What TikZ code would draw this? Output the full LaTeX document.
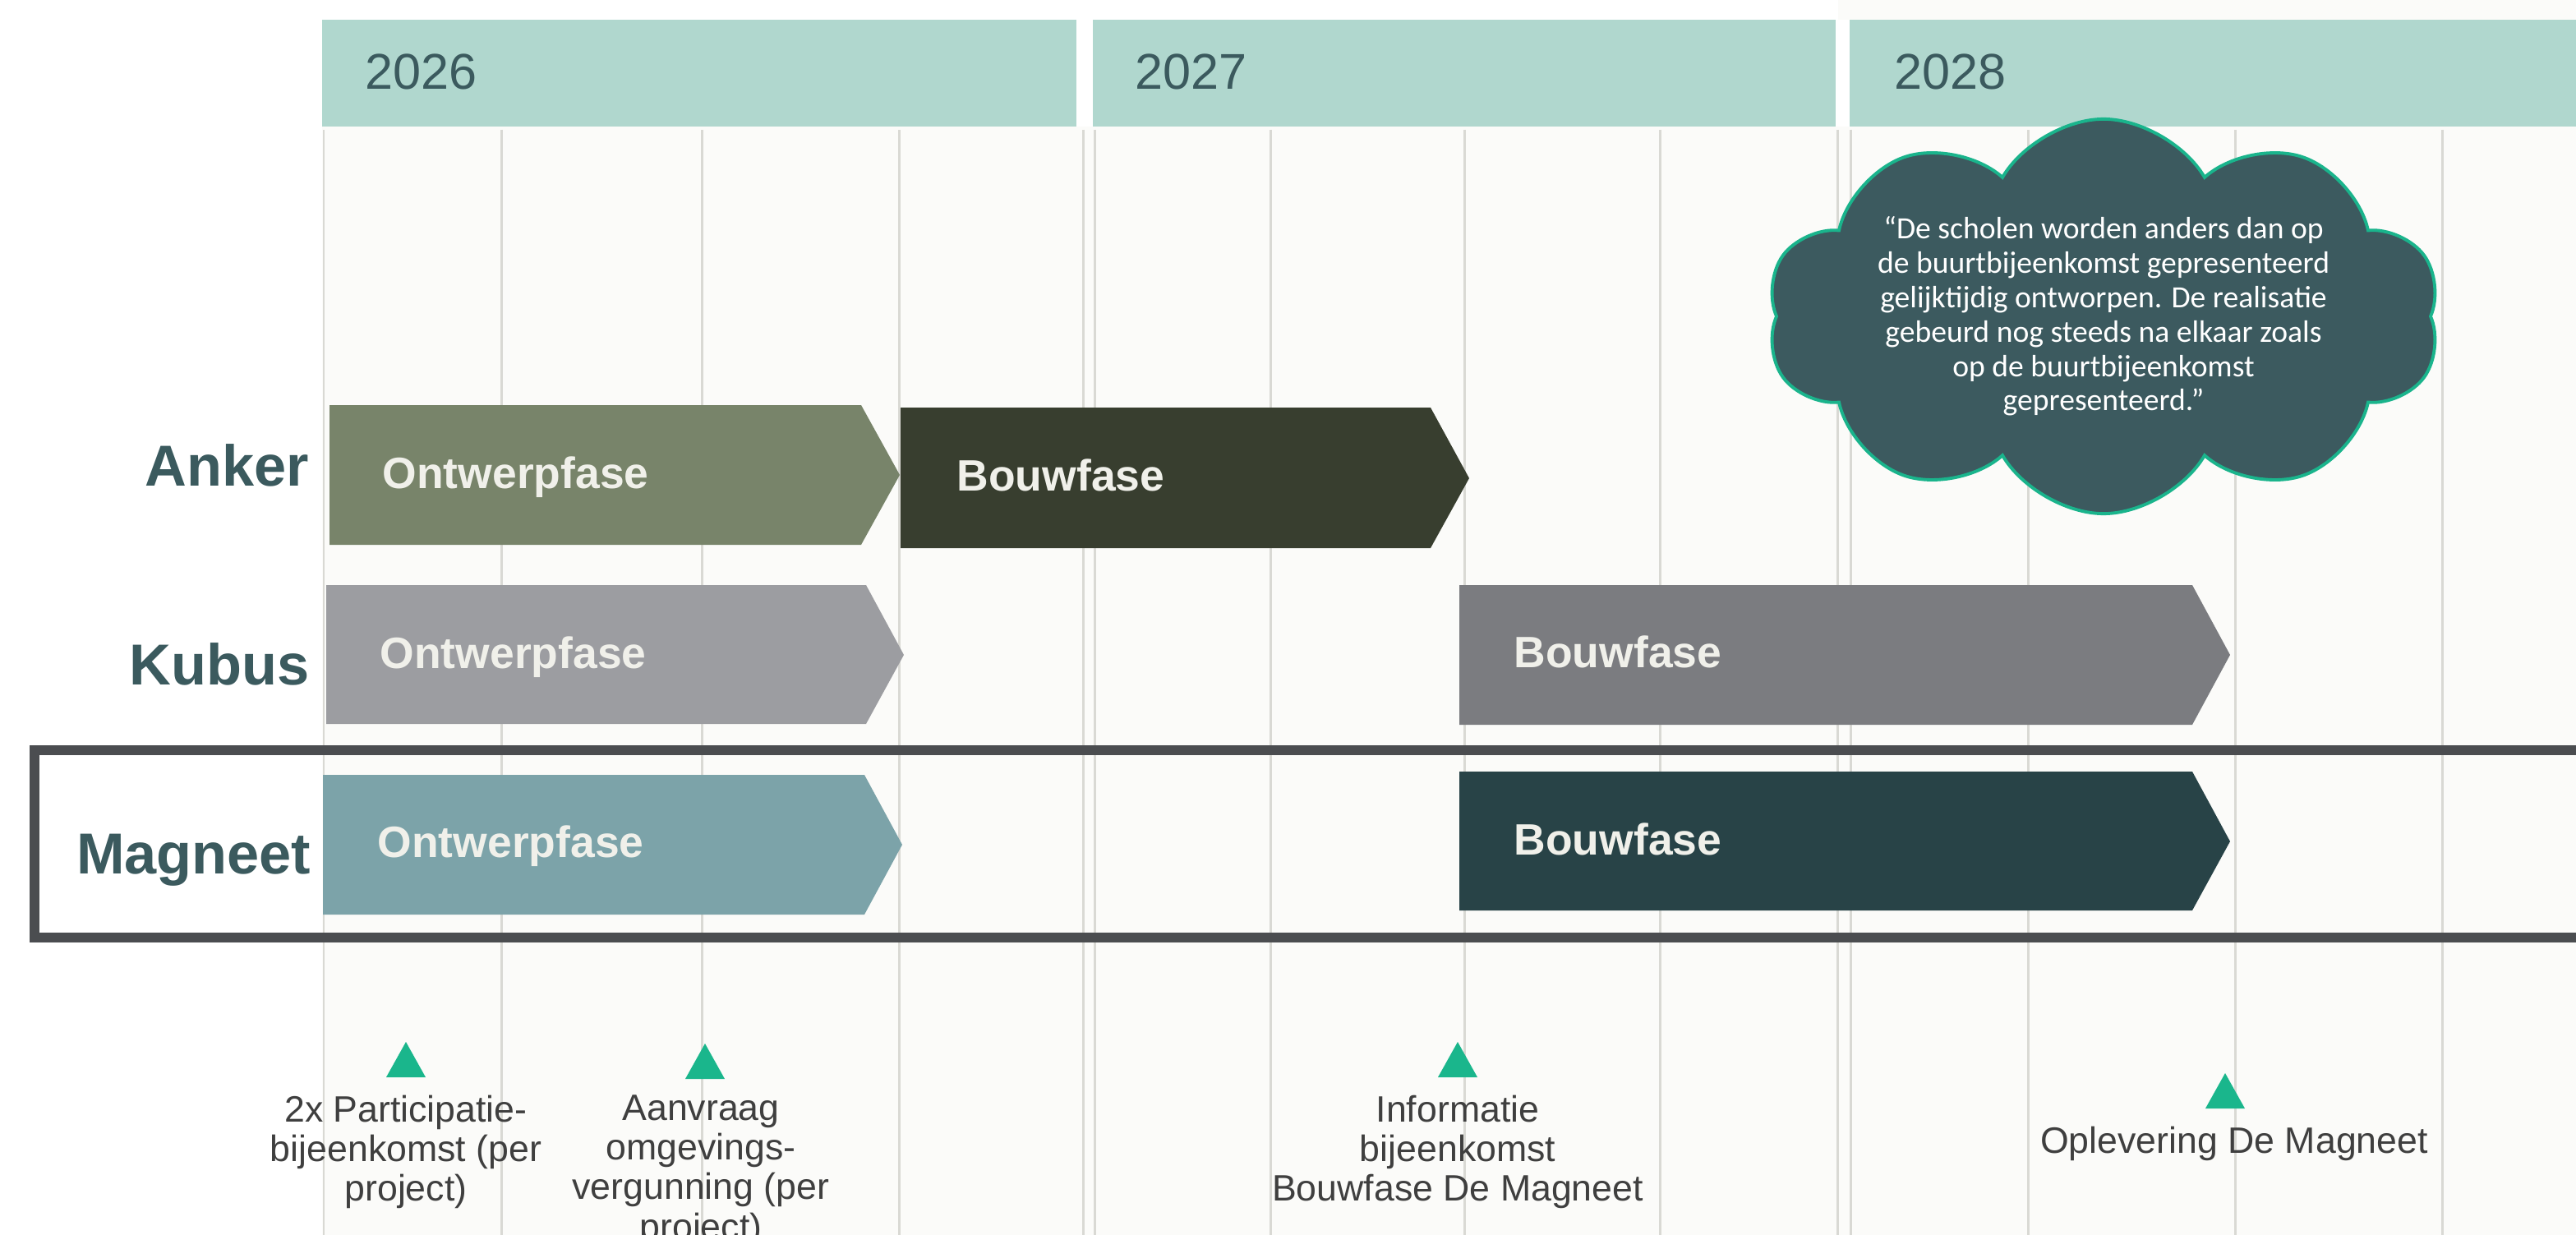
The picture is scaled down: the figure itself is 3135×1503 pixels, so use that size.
\documentclass[tikz,border=0pt]{standalone}
\usepackage{fontspec}
\setmainfont{Liberation Sans}
\newfontfamily\quotefont{Carlito}
\usepackage{xcolor}
\usepackage{tikz}
\usetikzlibrary{calc,positioning,shapes.symbols}
\definecolor{bg}{HTML}{FBFBF9}
\definecolor{hd}{HTML}{B0D7CE}
\definecolor{yr}{HTML}{3B5A5E}
\definecolor{gl}{HTML}{D9D9D4}
\definecolor{ankA}{HTML}{78846A}
\definecolor{ankB}{HTML}{383E2F}
\definecolor{kubA}{HTML}{9C9DA1}
\definecolor{kubB}{HTML}{7B7C80}
\definecolor{magA}{HTML}{7CA3A9}
\definecolor{magB}{HTML}{284347}
\definecolor{ph}{HTML}{F0F0EA}
\definecolor{fr}{HTML}{4B4D50}
\definecolor{cf}{HTML}{3C5A5F}
\definecolor{cb}{HTML}{1AB48C}
\definecolor{ms}{HTML}{1AB68C}
\definecolor{mt}{HTML}{3F3F3F}

\begin{document}
\begin{tikzpicture}[
      x=0.01cm, y=-0.01cm,
      yearband/.style={fill=hd},
      year/.style={anchor=base west, inner sep=0pt, font=\fontsize{17.4}{20}\selectfont, text=yr},
      row/.style={anchor=base east, inner sep=0pt, font=\fontsize{20}{24}\selectfont\bfseries, text=yr},
      phasetext/.style={anchor=base west, inner sep=0pt, font=\fontsize{15.2}{18}\selectfont\bfseries, text=ph},
      gridline/.style={draw=gl, line width=0.85pt},
      frame/.style={draw=fr, line width=3.4pt},
      milestone/.style={fill=ms},
      mslabel/.style={inner sep=0pt, align=center, font=\fontsize{12.7}{13.7}\selectfont, text=mt},
      quotecloud/.style={cloud, cloud puffs=10, cloud puff arc=120, aspect=1.7, draw=cb, line width=1.1pt, fill=cf, minimum width=8.2cm, minimum height=4.8cm},
      quote/.style={align=center, inner sep=0pt, font=\quotefont\fontsize{10.7}{11.9}\selectfont, text=white},
]
\useasboundingbox (0,0) rectangle (3135,1503);

\fill[bg] (392,154) rectangle (3135,1503);
\fill[bg] (2237,0) rectangle (3135,24);

\foreach \x in {394,610,854,1094,1318,1332,1546,1782,2020,2236,2252,2468,2720,2972}
  \draw[gridline] (\x,158) -- (\x,1503);

% years
\fill[yearband] (392,24) rectangle (1310,154);
\fill[yearband] (1330,24) rectangle (2234,154);
\fill[yearband] (2251,24) rectangle (3135,154);
\node[year] (y2026) at (444,109) {2026};
\node[year] (y2027) at (1381,109) {2027};
\node[year] (y2028) at (2305,109) {2028};

% rows
\node[row] (anker) at (377,591) {Anker};
\node[row] (kubus) at (377,833) {Kubus};
\node[row] (magneet) at (379,1063) {Magneet};

\fill[ankA] (401,493) -- (1048,493) -- (1095,578) -- (1048,663) -- (401,663) -- cycle;
\fill[ankB] (1096,496) -- (1741,496) -- (1788,582) -- (1741,667) -- (1096,667) -- cycle;
\node[phasetext] (anker_ow) at (465,594) {Ontwerpfase};
\node[phasetext] (anker_bf) at (1164,597) {Bouwfase};

\fill[kubA] (397,712) -- (1054,712) -- (1100,797) -- (1054,881) -- (397,881) -- cycle;
\fill[kubB] (1776,712) -- (2668,712) -- (2714,797) -- (2668,882) -- (1776,882) -- cycle;
\node[phasetext] (kubus_ow) at (462,813) {Ontwerpfase};
\node[phasetext] (kubus_bf) at (1842,812) {Bouwfase};

\fill[magA] (393,943) -- (1052,943) -- (1098,1028) -- (1052,1113) -- (393,1113) -- cycle;
\fill[magB] (1776,939) -- (2668,939) -- (2714,1024) -- (2668,1108) -- (1776,1108) -- cycle;
\node[phasetext] (magneet_ow) at (459,1043) {Ontwerpfase};
\node[phasetext] (magneet_bf) at (1842,1040) {Bouwfase};

\draw[frame] (3160,913) -- (42,913) -- (42,1141) -- (3160,1141);

% quote
\node[quotecloud] (cloud) at (2560,385) {};
\node[quote] (quote) at (cloud.center) {“De scholen worden anders dan op\\de buurtbijeenkomst gepresenteerd\\gelijktijdig ontworpen. De realisatie\\gebeurd nog steeds na elkaar zoals\\op de buurtbijeenkomst\\gepresenteerd.”};

% milestones
\coordinate (m1) at (494,1268);
\coordinate (m2) at (858,1270);
\coordinate (m3) at (1774,1268);
\coordinate (m4) at (2708,1306);
\fill[milestone] (m1) -- ++(24,43) -- ++(-48,0) -- cycle;
\fill[milestone] (m2) -- ++(24,43) -- ++(-48,0) -- cycle;
\fill[milestone] (m3) -- ++(24,43) -- ++(-48,0) -- cycle;
\fill[milestone] (m4) -- ++(24,43) -- ++(-48,0) -- cycle;

\node[mslabel, below=0.64cm of m1] (m1text) {2x Participatie-\\bijeenkomst (per\\project)};
\node[mslabel, below=0.62cm of m2, xshift=-0.05cm] (m2text) {Aanvraag\\omgevings-\\vergunning (per\\project)};
\node[mslabel, below=0.64cm of m3] (m3text) {Informatie\\bijeenkomst\\Bouwfase De Magneet};
\node[mslabel, below=0.64cm of m4, xshift=0.11cm] (m4text) {Oplevering De Magneet};

\end{tikzpicture}
\end{document}
